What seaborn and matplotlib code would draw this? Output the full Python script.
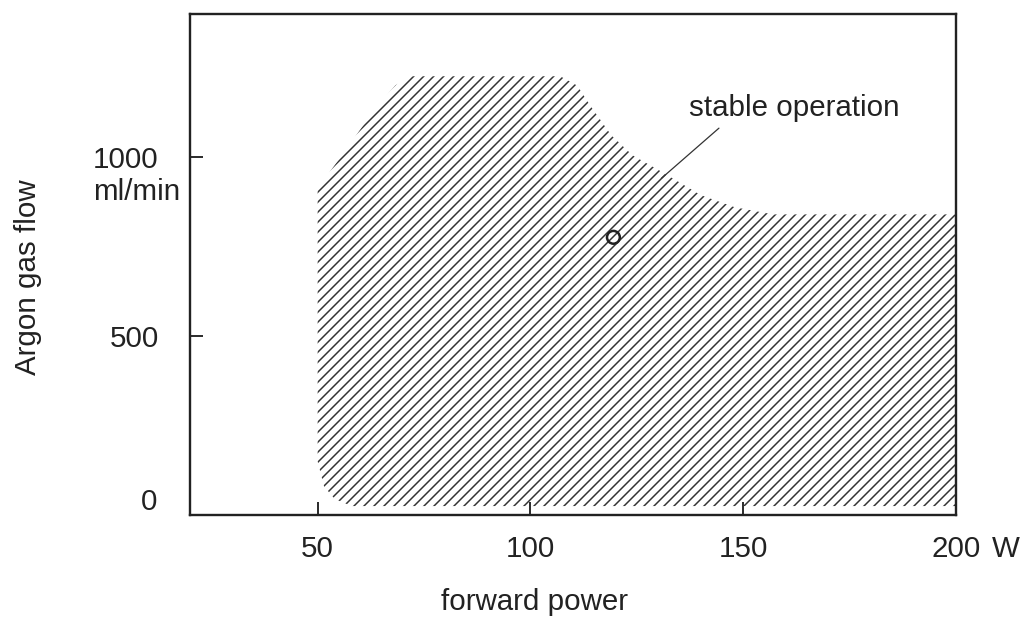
import matplotlib
matplotlib.use('Agg')
import matplotlib.pyplot as plt
import matplotlib.transforms as mtransforms
import seaborn as sns

# outline of the stable-operation region (forward power in W, argon flow in ml/min)
region_power = [50, 50, 55.4, 63.6, 68.3, 72, 107, 111, 114, 119, 124, 131, 140, 148, 157,
                200, 200, 58, 54, 51.5]
region_flow = [150, 913, 1000, 1137, 1201, 1226, 1226, 1200, 1145, 1061, 1005, 958, 894, 860, 840,
               840, 25, 25, 45, 80]

# operating point and leader line to the label
point_power = [119.5]
point_flow = [776]
leader_power = [130.8, 144.3]
leader_flow = [941, 1081]

x_ticks = [50, 100, 150, 200]
x_labels = ['50', '100', '150', '200']
y_ticks = [0, 500, 1000]
y_labels = ['', '500', '1000']

sns.set_style('ticks')
plt.rcParams['font.family'] = ['Liberation Sans', 'DejaVu Sans']
plt.rcParams['hatch.linewidth'] = 1.2

dpi = 90
fig = plt.figure(figsize=(1022 / dpi, 619 / dpi), dpi=dpi)
ax = fig.add_axes([0.1859, 0.168, 0.7495, 0.8094])

ink = '#222222'
fs = 23.6

# hatched region
ax.fill(region_power, region_flow, facecolor='none', edgecolor='#333333',
        hatch='///', linewidth=0)

sns.lineplot(x=leader_power, y=leader_flow, color='#333333', linewidth=1.0, ax=ax)
sns.scatterplot(x=point_power, y=point_flow, marker='o', s=105, facecolor='none',
                edgecolor=ink, linewidth=2.0, ax=ax, zorder=5)

ax.text(162, 1137, 'stable operation', ha='center', va='center', fontsize=fs, color=ink)

ax.set_xlim(20, 200)
ax.set_ylim(0, 1400)
ax.set_xticks(x_ticks, labels=x_labels)
ax.set_yticks(y_ticks, labels=y_labels)
ax.tick_params(direction='in', length=10.4, width=1.5, labelsize=fs, colors=ink)
ax.tick_params(axis='x', pad=16)
ax.tick_params(axis='y', pad=25)

for sp in ax.spines.values():
    sp.set_visible(True)
    sp.set_linewidth(1.9)
    sp.set_color(ink)

# extra unit texts next to the tick labels
ytrans = mtransforms.blended_transform_factory(ax.transAxes, ax.transData)
ax.text(-0.043, 35, '0', transform=ytrans, ha='right', va='center', fontsize=fs, color=ink)
ax.text(-0.013, 902, 'ml/min', transform=ytrans, ha='right', va='center', fontsize=fs, color=ink)
wtrans = mtransforms.offset_copy(ax.transAxes, fig=fig, y=-16, units='points')
ax.text(1.047, 0, 'W', transform=wtrans, ha='left', va='top', fontsize=fs, color=ink,
        clip_on=False)

ax.set_xlabel('forward power', fontsize=fs, color=ink)
ax.set_ylabel('Argon gas flow', fontsize=fs, color=ink)
ax.xaxis.set_label_coords(0.45, -0.145)
ax.yaxis.set_label_coords(-0.193, 0.475)

fig.savefig('out.png', dpi=dpi, facecolor='white')
